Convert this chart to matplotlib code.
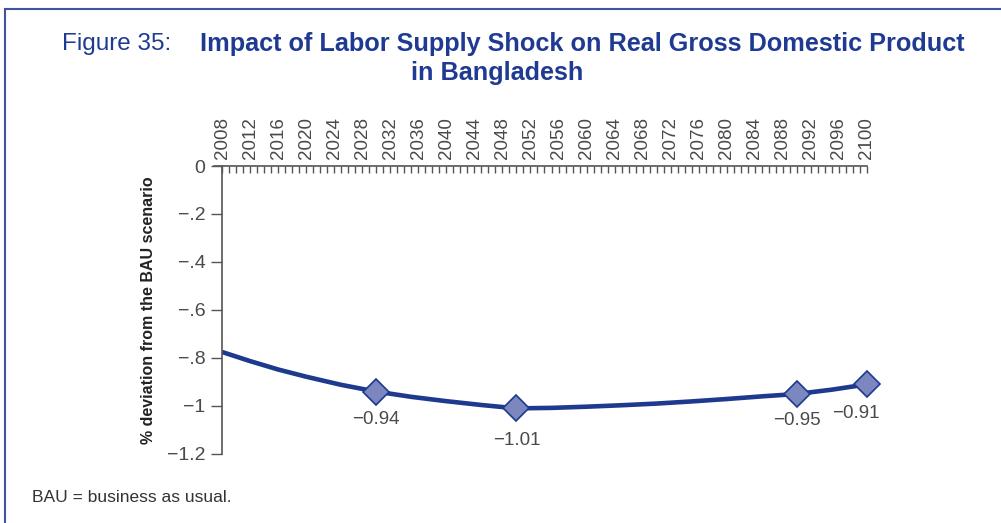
import numpy as np
import matplotlib.pyplot as plt
from matplotlib.lines import Line2D

# GDP deviation path (% from BAU)
years = [2008, 2012, 2016, 2020, 2025, 2030, 2035, 2040, 2045, 2050,
         2055, 2060, 2065, 2070, 2075, 2080, 2085, 2090, 2095, 2100]
gdp_dev = [-0.775, -0.813, -0.848, -0.878, -0.912, -0.94, -0.962, -0.98, -0.996, -1.01,
           -1.008, -1.003, -0.997, -0.99, -0.981, -0.971, -0.96, -0.95, -0.932, -0.91]

# labelled points
mark_years = [2030, 2050, 2090, 2100]
mark_vals = [-0.94, -1.01, -0.95, -0.91]
mark_offsets = [(0, -20), (0, -23), (0, -19), (-8, -21)]

year_ticks = list(range(2008, 2101, 4))
y_ticks = [0, -0.2, -0.4, -0.6, -0.8, -1.0, -1.2]
y_ticklabels = ['0', '\u2212.2', '\u2212.4', '\u2212.6', '\u2212.8', '\u22121', '\u22121.2']

BLUE = '#1f3a93'
LINE = '#1d3a8e'
FILL = '#7c86bf'
GREY = '#4a4a4a'

plt.rcParams['font.family'] = ['Liberation Sans', 'DejaVu Sans']

fig = plt.figure(figsize=(10.01, 5.23), dpi=100)
ax = fig.add_axes([0.2218, 0.132, 0.8661 - 0.2218, 0.6826 - 0.132])

ax.plot(years, gdp_dev, color=LINE, lw=3.3, solid_capstyle='butt', zorder=2)
ax.plot(mark_years, mark_vals, ls='none', marker='D', ms=13, mfc=FILL,
        mec=LINE, mew=1.2, zorder=3, clip_on=False)
for x, v, off in zip(mark_years, mark_vals, mark_offsets):
    ax.annotate(f'\u2212{abs(v):.2f}', (x, v), xytext=off, textcoords='offset points',
                ha='center', va='center', fontsize=13.5, color=GREY)

ax.set_xlim(2008, 2100)
ax.set_ylim(-1.2, 0)

# year axis sits along the zero line at the top
ax.xaxis.tick_top()
ax.set_xticks(year_ticks)
ax.set_xticks(range(2008, 2101), minor=True)
ax.set_xticklabels([str(y) for y in year_ticks], rotation=90, fontsize=13.5, color=GREY)
ax.tick_params(axis='x', which='both', direction='in', length=5, width=1,
               color='#555555', pad=5)

ax.set_yticks(y_ticks)
ax.set_yticklabels(y_ticklabels, fontsize=14, color=GREY)
ax.tick_params(axis='y', direction='out', length=8, width=1, color='#555555', pad=4)

for s in ['right', 'bottom']:
    ax.spines[s].set_visible(False)
for s in ['left', 'top']:
    ax.spines[s].set_color('#555555')
    ax.spines[s].set_linewidth(1.2)
ax.spines['top'].set_bounds(2006.8, 2100)

ax.set_ylabel('% deviation from the BAU scenario', fontsize=11.5, fontweight='bold',
              color='#222222', labelpad=8)

# title
fig.text(0.0615, 0.915, 'Figure 35:', fontsize=17.5, color=BLUE, ha='left', va='center')
fig.text(0.5813, 0.915, 'Impact of Labor Supply Shock on Real Gross Domestic Product',
         fontsize=18.2, fontweight='bold', color=BLUE, ha='center', va='center')
fig.text(0.497, 0.86, 'in Bangladesh', fontsize=18.2, fontweight='bold', color=BLUE,
         ha='center', va='center')

fig.text(0.032, 0.048, 'BAU = business as usual.', fontsize=12.5, color='#333333',
         ha='left', va='center')

# frame around the figure
fig.add_artist(Line2D([0.005, 1.0], [0.983, 0.983], color='#3d55a0', lw=1.5))
fig.add_artist(Line2D([0.005, 0.005], [0.0, 0.983], color='#3d55a0', lw=1.5))

fig.savefig('out.png', dpi=100)
